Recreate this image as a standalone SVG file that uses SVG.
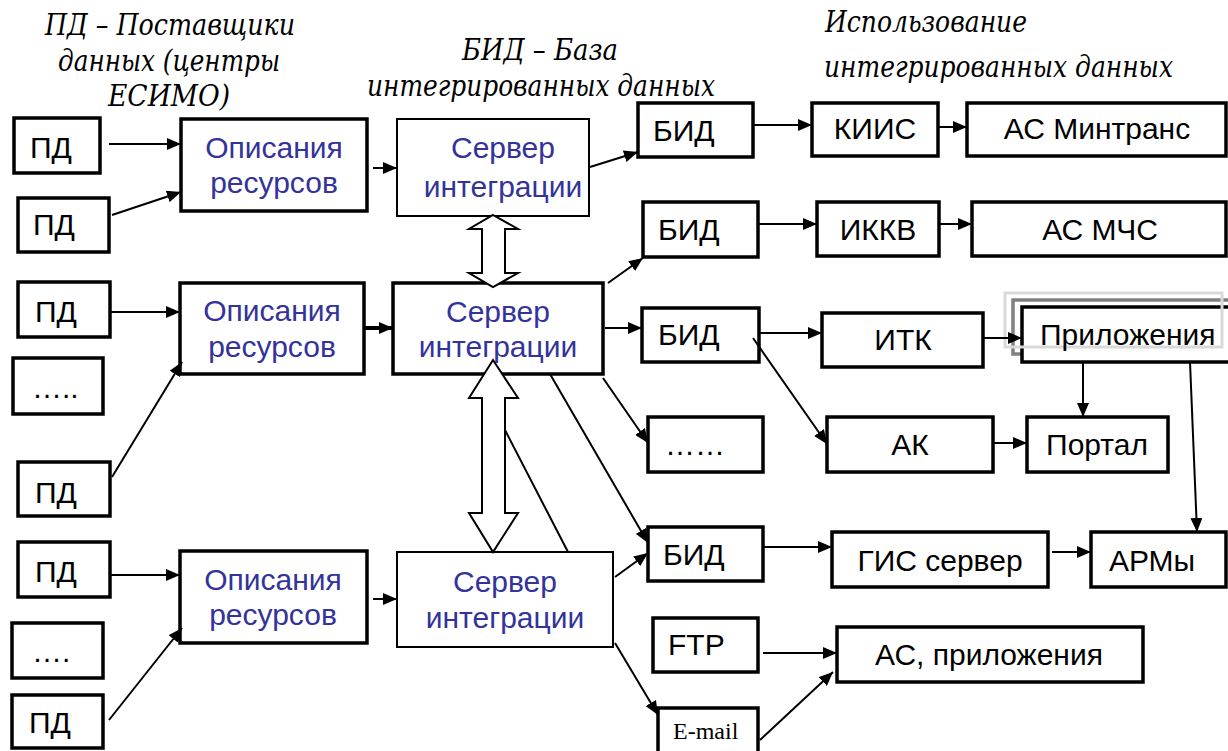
<svg xmlns="http://www.w3.org/2000/svg" width="1228" height="751" viewBox="0 0 1228 751">
<defs>
<marker id="ah" viewBox="0 0 14 12" refX="14" refY="6" markerWidth="14" markerHeight="12" markerUnits="userSpaceOnUse" orient="auto"><path d="M0,0 L14,6 L0,12 z" fill="#000"/></marker>
<style>
.b{fill:#fff;stroke:#000;stroke-width:3.5}
.t{fill:#fff;stroke:#000;stroke-width:2}
.l{font-family:"Liberation Sans",Arial,sans-serif;font-size:30px;fill:#000}
.u{font-family:"Liberation Sans",Arial,sans-serif;font-size:30px;fill:#333399;text-anchor:middle}
.h{font-family:'DejaVu Serif','Liberation Serif',serif;font-style:italic;font-size:29px;fill:#000}
.c{fill:none;stroke:#000;stroke-width:2;marker-end:url(#ah)}
.m{text-anchor:middle}
.ha{fill:#fff;stroke:#000;stroke-width:2}
.e{font-family:'Liberation Serif','Times New Roman',serif;font-size:24px;fill:#000}
</style>
</defs>
<rect width="1228" height="751" fill="#fff"/>
<g id="titles">
<text class="h m" x="170" y="35" textLength="250" lengthAdjust="spacingAndGlyphs">ПД – Поставщики</text>
<text class="h m" x="169" y="71" textLength="222" lengthAdjust="spacingAndGlyphs">данных (центры</text>
<text class="h m" x="169" y="106" textLength="122" lengthAdjust="spacingAndGlyphs">ЕСИМО)</text>
<text class="h m" x="540" y="60" textLength="156" lengthAdjust="spacingAndGlyphs">БИД – База</text>
<text class="h m" x="541" y="96" textLength="348" lengthAdjust="spacingAndGlyphs">интегрированных данных</text>
<text class="h" x="825" y="32" textLength="202" lengthAdjust="spacingAndGlyphs">Использование</text>
<text class="h" x="824" y="77" textLength="349" lengthAdjust="spacingAndGlyphs">интегрированных данных</text>
</g>
<g id="pd1"><rect class="b" x="14" y="118" width="86" height="55"/><text class="l" x="30" y="158">ПД</text></g>
<g id="pd2"><rect class="b" x="18" y="198" width="91" height="54"/><text class="l" x="33" y="235">ПД</text></g>
<g id="op1"><rect class="b" x="181" y="119" width="186" height="92"/><text class="u" x="274" y="158">Описания</text><text class="u" x="274" y="193">ресурсов</text></g>
<g id="srv1"><rect class="t" x="397" y="119" width="192" height="97"/><text class="u" x="503" y="158">Сервер</text><text class="u" x="503" y="197">интеграции</text></g>
<g id="bid1"><rect class="b" x="638" y="103" width="115" height="54"/><text class="l" x="653" y="141">БИД</text></g>
<g id="kiis"><rect class="b" x="812" y="103" width="126" height="53"/><text class="l m" x="875" y="139">КИИС</text></g>
<g id="asmintrans"><rect class="b" x="967" y="103" width="259" height="53"/><text class="l m" x="1097" y="139">АС Минтранс</text></g>
<g id="bid2"><rect class="b" x="643" y="202" width="115" height="55"/><text class="l" x="658" y="240">БИД</text></g>
<g id="ikkv"><rect class="b" x="817" y="202" width="122" height="54"/><text class="l m" x="878" y="240">ИККВ</text></g>
<g id="asmchs"><rect class="b" x="972" y="202" width="254" height="54"/><text class="l m" x="1100" y="240">АС МЧС</text></g>
<g id="pd3"><rect class="b" x="18" y="282" width="92" height="55"/><text class="l" x="35" y="322">ПД</text></g>
<g id="op2"><rect class="b" x="180" y="283" width="184" height="91"/><text class="u" x="272" y="321">Описания</text><text class="u" x="272" y="357">ресурсов</text></g>
<g id="srv2"><rect class="b" x="393" y="283" width="210" height="91"/><text class="u" x="498" y="322">Сервер</text><text class="u" x="498" y="357">интеграции</text></g>
<g id="bid3"><rect class="b" x="642" y="308" width="117" height="54"/><text class="l" x="658" y="345">БИД</text></g>
<g id="itk"><rect class="b" x="822" y="313" width="161" height="54"/><text class="l m" x="903" y="350">ИТК</text></g>
<g id="pril">
<rect fill="none" stroke="#808080" stroke-width="3.5" x="1013" y="300" width="225" height="54"/>
<rect class="b" x="1022" y="307" width="220" height="55"/>
<rect fill="none" stroke="#d9d9d9" stroke-width="3" x="1005" y="293" width="217" height="54"/>
<text class="l" x="1040" y="345">Приложения</text></g>
<g id="dots1"><rect class="b" x="13" y="358" width="90" height="56"/><text class="l" x="32" y="398">…..</text></g>
<g id="dots2"><rect class="b" x="648" y="417" width="115" height="55"/><text class="l" x="665" y="455">……</text></g>
<g id="ak"><rect class="b" x="827" y="417" width="166" height="55"/><text class="l m" x="910" y="455">АК</text></g>
<g id="portal"><rect class="b" x="1027" y="417" width="141" height="55"/><text class="l m" x="1097" y="455">Портал</text></g>
<g id="pd4"><rect class="b" x="18" y="462" width="92" height="54"/><text class="l" x="35" y="503">ПД</text></g>
<g id="pd5"><rect class="b" x="18" y="542" width="92" height="55"/><text class="l" x="35" y="582">ПД</text></g>
<g id="op3"><rect class="b" x="180" y="551" width="187" height="92"/><text class="u" x="273" y="590">Описания</text><text class="u" x="273" y="625">ресурсов</text></g>
<g id="srv3"><rect class="t" x="397" y="552" width="216" height="95"/><text class="u" x="505" y="592">Сервер</text><text class="u" x="505" y="628">интеграции</text></g>
<g id="bid4"><rect class="b" x="648" y="527" width="115" height="54"/><text class="l" x="663" y="565">БИД</text></g>
<g id="gis"><rect class="b" x="832" y="532" width="216" height="55"/><text class="l m" x="940" y="571">ГИС сервер</text></g>
<g id="arm"><rect class="b" x="1091" y="532" width="135" height="55"/><text class="l m" x="1152" y="571">АРМы</text></g>
<g id="dots3"><rect class="b" x="12" y="623" width="91" height="55"/><text class="l" x="32" y="662">….</text></g>
<g id="ftp"><rect class="b" x="653" y="618" width="105" height="54"/><text class="l" x="668" y="655">FTP</text></g>
<g id="asapp"><rect class="b" x="837" y="627" width="306" height="55"/><text class="l m" x="989" y="665">АС, приложения</text></g>
<g id="pd6"><rect class="b" x="12" y="695" width="91" height="53"/><text class="l" x="29" y="733">ПД</text></g>
<g id="email"><rect class="b" x="658" y="708" width="100" height="50"/><text class="e" x="673" y="739">E-mail</text></g>
<g id="connectors">
<path class="c" d="M109,144 L181,144"/>
<path class="c" d="M112,215 L181,192"/>
<path class="c" d="M373,168 L397,168"/>
<path class="c" d="M590,167 L638,152"/>
<path class="c" d="M753,125 L812,125"/>
<path class="c" d="M938,127 L967,127"/>
<path class="c" d="M758,224 L817,224"/>
<path class="c" d="M939,224 L972,224"/>
<path class="c" d="M110,312 L180,312"/>
<path class="c" d="M112,477 L182,362"/>
<path class="c" style="stroke-width:4" d="M364,328 L393,328"/>
<path class="c" d="M608,283 L643,258"/>
<path class="c" d="M605,328 L642,328"/>
<path class="c" d="M603,378 L648,443"/>
<path class="c" d="M550,374 L648,543"/>
<path class="c" d="M759,333 L822,333"/>
<path class="c" d="M753,338 L827,444"/>
<path class="c" d="M983,338 L1022,338"/>
<path class="c" d="M993,443 L1027,443"/>
<path class="c" d="M1083,362 L1083,417"/>
<path class="c" d="M1190,362 L1197,532"/>
<path class="c" d="M110,575 L180,575"/>
<path class="c" d="M109,720 L182,628"/>
<path class="c" d="M373,599 L397,599"/>
<path class="c" d="M615,577 L648,553"/>
<path fill="none" stroke="#000" stroke-width="2" d="M505,430 L568,552"/>
<path class="c" d="M763,547 L832,547"/>
<path class="c" d="M1052,552 L1091,552"/>
<path class="c" d="M615,643 L658,715"/>
<path class="c" d="M763,653 L837,653"/>
<path class="c" d="M760,740 L833,672"/>
<polygon class="ha" points="493,215 518,229 505,229 505,273 518,273 493,287 469,273 482,273 482,229 469,229"/>
<polygon class="ha" points="493,360 518,398 505,398 505,513 518,513 493,552 469,513 482,513 482,398 469,398"/>
</g>
</svg>
